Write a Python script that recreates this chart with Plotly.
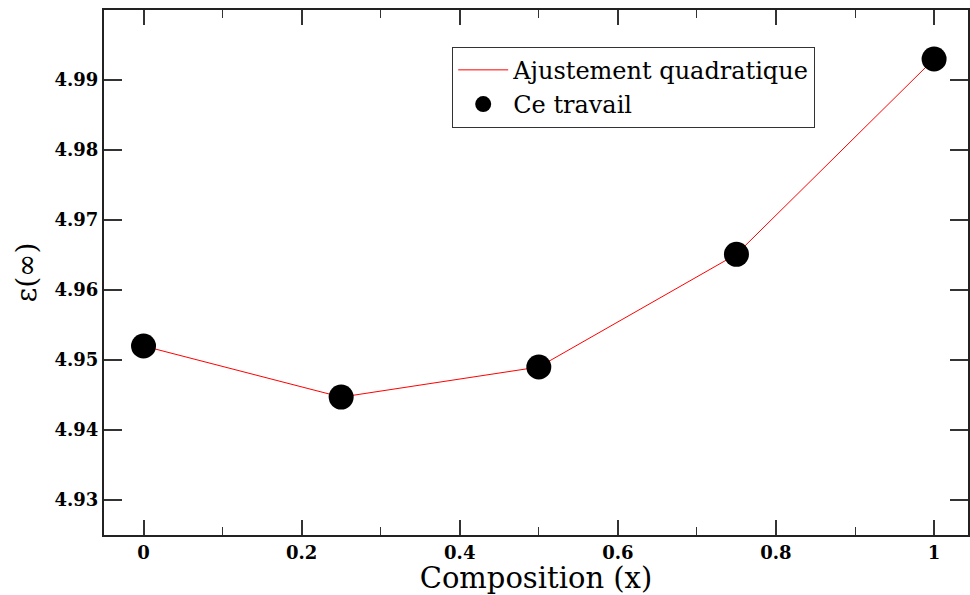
import plotly.graph_objects as go

# Composition x and high-frequency dielectric constant
composition = [0.0, 0.25, 0.5, 0.75, 1.0]
eps_inf = [4.952, 4.9447, 4.949, 4.9651, 4.993]

x_ticks = [0, 0.2, 0.4, 0.6, 0.8, 1]
x_tick_labels = ["0", "0.2", "0.4", "0.6", "0.8", "1"]
y_ticks = [4.93, 4.94, 4.95, 4.96, 4.97, 4.98, 4.99]
y_tick_labels = ["4.93", "4.94", "4.95", "4.96", "4.97", "4.98", "4.99"]

serif = "DejaVu Serif"

fig = go.Figure()
fig.add_trace(go.Scatter(
    x=composition, y=eps_inf, mode="lines",
    name="Ajustement quadratique",
    line=dict(color="#ff0000", width=1),
))
fig.add_trace(go.Scatter(
    x=composition, y=eps_inf, mode="markers",
    name="Ce travail",
    marker=dict(color="black", size=25, symbol="circle"),
))

axis_common = dict(
    showgrid=False, zeroline=False,
    showline=True, linecolor="#222222", linewidth=2,
    mirror="allticks", ticks="inside", tickcolor="#333333", tickwidth=2,
    tickfont=dict(family=serif, size=18, color="black", weight="bold"),
)

fig.update_xaxes(
    range=[-0.05, 1.0429],
    tickvals=x_ticks, ticktext=x_tick_labels, ticklen=15,
    minor=dict(dtick=0.1, ticks="inside", ticklen=8, tickcolor="#333333", tickwidth=1),
    title=dict(text="Composition (x)", font=dict(family=serif, size=29, color="black"), standoff=3),
    **axis_common,
)
fig.update_yaxes(
    range=[4.925, 5.0],
    tickvals=y_ticks, ticktext=y_tick_labels, ticklen=18,
    title=dict(text="ε(∞)", font=dict(family=serif, size=28, color="black"), standoff=10),
    **axis_common,
)

fig.update_layout(
    width=970, height=595,
    margin=dict(l=104, r=0, t=10, b=60),
    plot_bgcolor="white", paper_bgcolor="white",
    showlegend=True,
    legend=dict(
        x=0.403, y=0.93, xanchor="left", yanchor="top",
        bordercolor="#333333", borderwidth=1, bgcolor="white",
        font=dict(family=serif, size=24, color="black"),
        itemsizing="trace", itemwidth=50, tracegroupgap=0,
    ),
)

fig.write_html("out.html")
